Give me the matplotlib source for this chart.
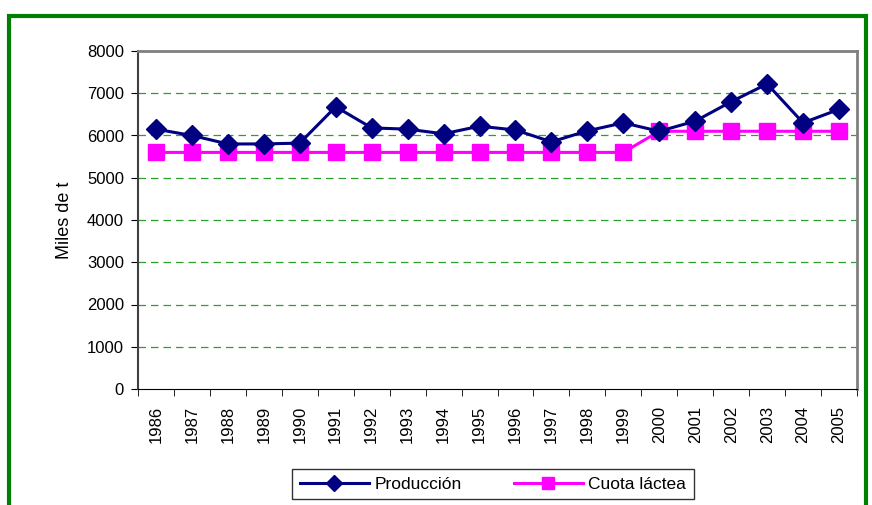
import matplotlib.pyplot as plt
import matplotlib.patches as mpatches
import numpy as np

# -----------------------
# DATA
years = ['1986', '1987', '1988', '1989', '1990', '1991', '1992', '1993', '1994', '1995',
         '1996', '1997', '1998', '1999', '2000', '2001', '2002', '2003', '2004', '2005']
produccion = [6150, 6000, 5800, 5800, 5820, 6680, 6180, 6150, 6040, 6220,
              6130, 5850, 6110, 6300, 6100, 6340, 6800, 7220, 6300, 6620]
cuota = [5600, 5600, 5600, 5600, 5600, 5600, 5600, 5600, 5600, 5600,
         5600, 5600, 5600, 5600, 6100, 6100, 6100, 6100, 6100, 6100]
y_ticks = [0, 1000, 2000, 3000, 4000, 5000, 6000, 7000, 8000]

plt.rcParams['font.family'] = ['Liberation Sans', 'DejaVu Sans']

fig = plt.figure(figsize=(8.72, 5.05), dpi=100)
# plot area in pixels: x 138..857, y 51..389
ax = fig.add_axes([138 / 872, 1 - 389 / 505, 719 / 872, 338 / 505])

x = np.arange(len(years))
ax.plot(x, produccion, color='#000080', lw=2.2, marker='D', ms=10,
        label='Producción', zorder=4)
ax.plot(x, cuota, color='#FF00FF', lw=2.2, marker='s', ms=11,
        label='Cuota láctea', zorder=3)

ax.set_xlim(-0.5, len(years) - 0.5)
ax.set_ylim(0, 8000)
ax.set_yticks(y_ticks)
ax.set_yticklabels([str(v) for v in y_ticks], fontsize=12)

# category labels centered, ticks between categories
ax.set_xticks(x)
ax.set_xticklabels(years, rotation=90, fontsize=12)
ax.tick_params(axis='x', length=0, pad=12)
ax.set_xticks(np.arange(-0.5, len(years)), minor=True)
ax.tick_params(axis='x', which='minor', length=5, color='black', direction='out')
ax.tick_params(axis='y', length=5, direction='out', pad=5)

# grid
for v in y_ticks[1:-1]:
    ax.axhline(v, color='#2ca02c', lw=0.9, ls=(0, (6, 4)), zorder=1)

ax.spines['top'].set_color('#808080')
ax.spines['right'].set_color('#808080')
ax.spines['top'].set_linewidth(2)
ax.spines['right'].set_linewidth(2)
ax.spines['left'].set_color('#404040')
ax.spines['left'].set_linewidth(1.5)
ax.spines['bottom'].set_color('black')

ax.set_ylabel('Miles de t', fontsize=13, labelpad=10)

leg = ax.legend(loc='upper center', bbox_to_anchor=(493 / 872, 1 - 460 / 505),
                bbox_transform=fig.transFigure, ncol=2, fontsize=12.5,
                frameon=True, fancybox=False, edgecolor='black',
                handlelength=4.0, columnspacing=3.0, borderpad=0.45,
                handletextpad=0.3, markerscale=0.8)
leg.get_frame().set_linewidth(1.0)

# green outer border
border = mpatches.Rectangle((9 / 872, -0.05), (866 - 9) / 872, 1.05 - 16 / 505,
                            transform=fig.transFigure, fill=False,
                            edgecolor='#008000', lw=3, clip_on=False)
fig.patches.append(border)

fig.savefig('out.png', dpi=100)
